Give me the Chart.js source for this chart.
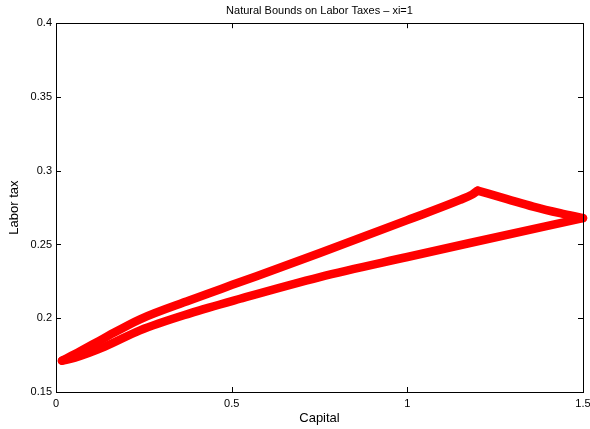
<!DOCTYPE html>
<html>
<head>
<meta charset="utf-8">
<script src="https://cdn.jsdelivr.net/npm/chart.js@4/dist/chart.umd.min.js"></script>
<style>
html,body{margin:0;padding:0;background:#fff;}
#wrap{width:590px;height:429px;position:relative;}
</style>
</head>
<body>
<div id="wrap"><canvas id="c" width="590" height="429"></canvas></div>
<script>
// ---- data ----
const titleText = 'Natural Bounds on Labor Taxes \u2013 xi=1';
const xLabel = 'Capital';
const yLabel = 'Labor tax';
const xTicks = [0, 0.5, 1, 1.5];
const yTicks = [0.15, 0.2, 0.25, 0.3, 0.35, 0.4];

// lower branch of the bound
const lowerCapital = [0.017, 0.054, 0.139, 0.239, 0.381, 0.524, 0.751, 1.0, 1.178, 1.5];
const lowerTax     = [0.1712, 0.1733, 0.1808, 0.1918, 0.2033, 0.2132, 0.2279, 0.2415, 0.251, 0.2679];

// upper branch, up to the kink
const upperCapital = [0.017, 0.054, 0.139, 0.239, 0.381, 0.524, 0.751, 1.0, 1.15, 1.184, 1.2];
const upperTax     = [0.1712, 0.1757, 0.1868, 0.1993, 0.2122, 0.2245, 0.2442, 0.2665, 0.2802, 0.2838, 0.2865];

// upper branch, after the kink
const tailCapital = [1.2, 1.284, 1.358, 1.435, 1.5];
const tailTax     = [0.2865, 0.2808, 0.2757, 0.2712, 0.2679];

const pts = (xs, ys) => xs.map((x, i) => ({x: x, y: ys[i]}));

Chart.defaults.font.family = "'Liberation Sans', Arial, Helvetica, sans-serif";
Chart.defaults.color = '#000';

const lineStyle = {
  showLine: true,
  borderColor: '#ff0000',
  backgroundColor: '#ff0000',
  borderWidth: 8.5,
  pointRadius: 0,
  borderCapStyle: 'round',
  borderJoinStyle: 'round',
  cubicInterpolationMode: 'monotone',
  fill: false,
  clip: false
};

const boxPlugin = {
  id: 'matlabBox',
  afterDraw(chart) {
    const ctx = chart.ctx;
    const a = chart.chartArea;
    const xs = chart.scales.x, ys = chart.scales.y;
    ctx.save();
    ctx.strokeStyle = '#000';
    ctx.lineWidth = 1;
    ctx.beginPath();
    ctx.rect(Math.round(a.left) + 0.5, Math.round(a.top) + 0.5,
             Math.round(a.right) - Math.round(a.left), Math.round(a.bottom) - Math.round(a.top));
    ctx.stroke();
    const tl = 5;
    ctx.beginPath();
    xTicks.forEach(v => {
      const px = Math.round(xs.getPixelForValue(v)) + 0.5;
      ctx.moveTo(px, a.bottom); ctx.lineTo(px, a.bottom - tl);
      ctx.moveTo(px, a.top); ctx.lineTo(px, a.top + tl);
    });
    yTicks.forEach(v => {
      const py = Math.round(ys.getPixelForValue(v)) + 0.5;
      ctx.moveTo(a.left, py); ctx.lineTo(a.left + tl, py);
      ctx.moveTo(a.right, py); ctx.lineTo(a.right - tl, py);
    });
    ctx.stroke();
    ctx.restore();
  }
};

new Chart(document.getElementById('c'), {
  type: 'scatter',
  data: {
    datasets: [
      Object.assign({label: 'lower', data: pts(lowerCapital, lowerTax)}, lineStyle),
      Object.assign({label: 'upper', data: pts(upperCapital, upperTax)}, lineStyle),
      Object.assign({label: 'tail', data: pts(tailCapital, tailTax)}, lineStyle)
    ]
  },
  options: {
    responsive: false,
    animation: false,
    layout: {padding: {left: 0, right: 7, top: 0, bottom: 0}},
    plugins: {
      legend: {display: false},
      tooltip: {enabled: false},
      title: {
        display: true,
        text: titleText,
        fullSize: false,
        font: {size: 11, weight: 'normal'},
        color: '#000',
        padding: {top: 4, bottom: 6}
      }
    },
    scales: {
      x: {
        type: 'linear',
        min: 0, max: 1.5,
        grid: {display: false, drawTicks: false},
        border: {display: true, color: '#000', width: 1},
        afterBuildTicks: s => { s.ticks = xTicks.map(v => ({value: v})); },
        afterFit: s => { s.height = 37; s.paddingRight = 0; s.paddingLeft = 0; },
        ticks: {font: {size: 11}, padding: 5, maxRotation: 0, autoSkip: false,
                callback: v => String(v)},
        title: {display: true, text: xLabel, font: {size: 13}, padding: {top: 0, bottom: 3}}
      },
      y: {
        type: 'linear',
        min: 0.15, max: 0.4,
        grid: {display: false, drawTicks: false},
        border: {display: true, color: '#000', width: 1},
        afterBuildTicks: s => { s.ticks = yTicks.map(v => ({value: v})); },
        afterFit: s => { s.width = 56; s.paddingTop = 0; s.paddingBottom = 0; },
        ticks: {font: {size: 11}, padding: 4, autoSkip: false,
                callback: v => String(v)},
        title: {display: true, text: yLabel, font: {size: 13}, padding: {top: 7, bottom: 0}}
      }
    }
  },
  plugins: [boxPlugin]
});
</script>
</body>
</html>
